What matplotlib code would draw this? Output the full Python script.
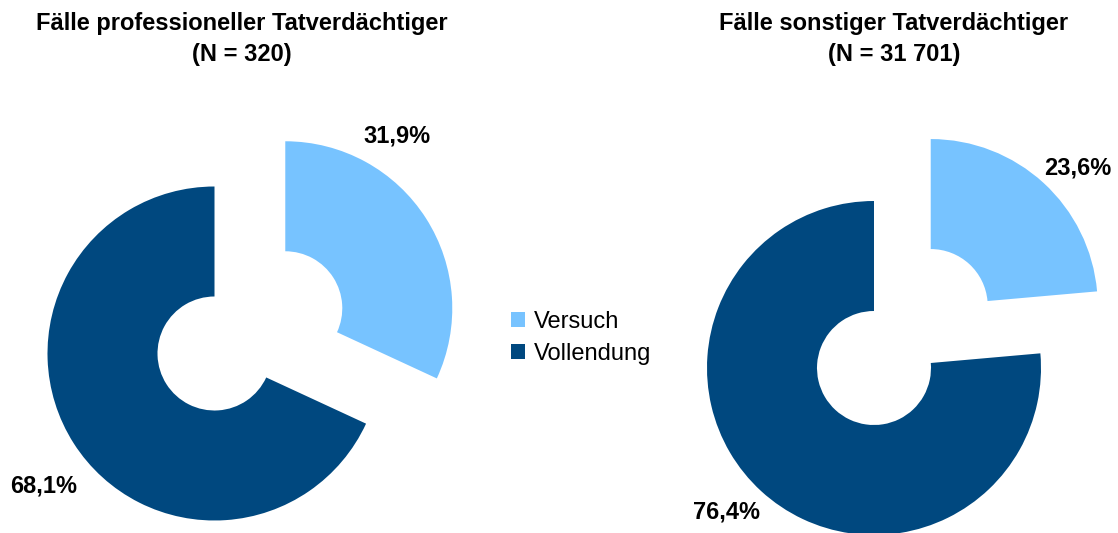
import matplotlib
matplotlib.use("Agg")
import matplotlib.pyplot as plt

plt.rcParams['font.family'] = ['Liberation Sans', 'DejaVu Sans']

# data
categories = ['Versuch', 'Vollendung']
colors = ['#77C3FF', '#00487F']
titles = ['Fälle professioneller Tatverdächtiger', 'Fälle sonstiger Tatverdächtiger']
totals = ['(N = 320)', '(N = 31 701)']
shares_prof = [31.9, 68.1]
shares_other = [23.6, 76.4]

W, H = 1118, 533
fig = plt.figure(figsize=(W / 100, H / 100), dpi=100)
ax = fig.add_axes([0, 0, 1, 1])

R = 167
ring = 110
shift = 84  # explode distance in pixels (pie uses data units)
fs = 17


def donut(values, cx, cy_img, label_pos):
    cy = H - cy_img
    wedges, _ = ax.pie(values, colors=colors, startangle=90, counterclock=False,
                       radius=R, center=(cx, cy), explode=[shift, 0],
                       wedgeprops=dict(width=ring, linewidth=0))
    for v, (lx, ly) in zip(values, label_pos):
        ax.text(lx, H - ly, f'{v:.1f}%'.replace('.', ','), ha='center',
                va='baseline', fontsize=fs, fontweight='bold')
    return wedges


wedges = donut(shares_prof, 214.5, 353.5, [(397, 143), (44, 493)])
donut(shares_other, 874, 368, [(1078, 175), (727, 518)])

for t, n, x in zip(titles, totals, [242, 894]):
    ax.text(x, H - 30, t, ha='center', va='baseline', fontsize=fs, fontweight='bold')
    ax.text(x, H - 61, n, ha='center', va='baseline', fontsize=fs, fontweight='bold')

ax.legend(wedges, categories, loc='center left', bbox_to_anchor=(511, H - 338),
          bbox_transform=ax.transData, frameon=False, fontsize=fs,
          handlelength=0.6, handleheight=0.6, handletextpad=0.35,
          labelspacing=0.42, borderpad=0, borderaxespad=0)

ax.set_xlim(0, W)
ax.set_ylim(0, H)
ax.set_aspect('auto')
ax.axis('off')

fig.savefig('out.png', dpi=100)
